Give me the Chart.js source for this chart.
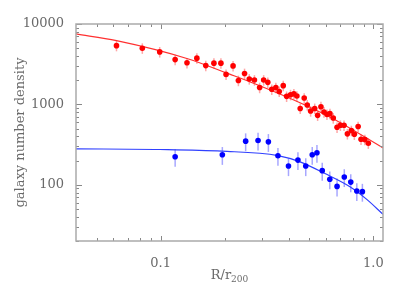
<!DOCTYPE html>
<html lang="en">
<head>
<meta charset="UTF-8">
<title>galaxy number density</title>
<script src="https://cdn.jsdelivr.net/npm/chart.js"></script>
<style>
  body { margin: 0; padding: 0; background: #fff; }
  canvas { display: block; }
</style>
</head>
<body>
<canvas id="chart" width="407" height="291"></canvas>
<script>
  // red sample
  const redX = [0.062, 0.082, 0.099, 0.117, 0.133, 0.148, 0.163, 0.178, 0.192, 0.203,
                0.219, 0.232, 0.248, 0.261, 0.276, 0.292, 0.305, 0.319, 0.333, 0.348,
                0.361, 0.377, 0.391, 0.408, 0.423, 0.437, 0.453, 0.473, 0.489, 0.507,
                0.530, 0.547, 0.567, 0.586, 0.605, 0.625, 0.648, 0.675, 0.700, 0.728,
                0.755, 0.788, 0.814, 0.848, 0.875, 0.912, 0.947];
  const redY = [5380, 5000, 4500, 3610, 3290, 3760, 3040, 3260, 3260, 2360,
                3010, 1980, 2420, 2070, 2010, 1620, 2010, 1880, 1540, 1620,
                1450, 1710, 1260, 1320, 1350, 1270, 891, 1200, 985, 828,
                891, 731, 935, 805, 752, 767, 678, 519, 550, 550,
                430, 472, 425, 530, 368, 365, 329];
  const redErr = 0.15;   // fractional error

  // blue sample
  const blueX = [0.117, 0.195, 0.251, 0.287, 0.321, 0.356, 0.399, 0.442, 0.481, 0.516,
                 0.543, 0.575, 0.624, 0.675, 0.730, 0.783, 0.836, 0.888];
  const blueY = [223, 236, 349, 355, 342, 230, 171, 203, 171, 236,
                 250, 150, 117, 95.5, 125, 108, 83.6, 82.2];
  const blueErr = 0.25;

  // fitted curves
  const redFitX = [0.04, 0.062, 0.134, 0.211, 0.277, 0.452, 0.66, 1.11];
  const redFitY = [7520, 6210, 3700, 2380, 1810, 1050, 646, 288];
  const blueFitX = [0.04, 0.099, 0.194, 0.356, 0.452, 0.592, 0.776, 0.931, 1.11];
  const blueFitY = [280, 275, 262, 231, 193, 138, 94.6, 65.9, 43];

  // axes
  const xMin = 0.04, xMax = 1.11;
  const yMin = 20, yMax = 10000;
  const xMajor = [0.1, 1];
  const xMajorLabels = ['0.1', '1.0'];
  const xMinor = [0.05, 0.06, 0.07, 0.08, 0.09, 0.2, 0.3, 0.4, 0.5, 0.6, 0.7, 0.8, 0.9];
  const yMajor = [100, 1000, 10000];
  const yMinor = [20, 30, 40, 50, 60, 70, 80, 90, 200, 300, 400, 500, 600, 700, 800, 900,
                  2000, 3000, 4000, 5000, 6000, 7000, 8000, 9000];

  const FONT = 'DejaVu Serif';
  const TEXT = '#6a6a6a';

  function pts(xs, ys) {
    return xs.map((x, i) => ({ x: x, y: ys[i] }));
  }

  const framePlugin = {
    id: 'frame',
    beforeDatasetsDraw(chart) {
      const ctx = chart.ctx;
      const xs = chart.scales.x, ys = chart.scales.y;
      const sets = [
        { xv: redX, yv: redY, err: redErr, color: 'rgba(255,60,60,0.45)' },
        { xv: blueX, yv: blueY, err: blueErr, color: 'rgba(60,60,255,0.45)' }
      ];
      ctx.save();
      ctx.lineWidth = 1.5;
      sets.forEach(s => {
        ctx.strokeStyle = s.color;
        s.xv.forEach((x, i) => {
          const px = xs.getPixelForValue(x);
          const y0 = ys.getPixelForValue(s.yv[i] * (1 + s.err));
          const y1 = ys.getPixelForValue(s.yv[i] * (1 - s.err));
          ctx.beginPath();
          ctx.moveTo(px, y0);
          ctx.lineTo(px, y1);
          ctx.stroke();
        });
      });
      ctx.restore();
    },
    afterDraw(chart) {
      const ctx = chart.ctx;
      const a = chart.chartArea;
      const xs = chart.scales.x, ys = chart.scales.y;
      ctx.save();
      // ticks inside the box, on all four sides
      ctx.strokeStyle = '#888';
      ctx.lineWidth = 1;
      const xt = (v, len) => {
        const p = Math.round(xs.getPixelForValue(v)) + 0.5;
        ctx.beginPath();
        ctx.moveTo(p, a.bottom); ctx.lineTo(p, a.bottom - len);
        ctx.moveTo(p, a.top); ctx.lineTo(p, a.top + len);
        ctx.stroke();
      };
      const yt = (v, len) => {
        const p = Math.round(ys.getPixelForValue(v)) + 0.5;
        ctx.beginPath();
        ctx.moveTo(a.left, p); ctx.lineTo(a.left + len, p);
        ctx.moveTo(a.right, p); ctx.lineTo(a.right - len, p);
        ctx.stroke();
      };
      xMinor.forEach(v => xt(v, 3));
      xMajor.forEach(v => xt(v, 5));
      yMinor.forEach(v => yt(v, 3));
      yMajor.forEach(v => yt(v, 6));

      ctx.strokeStyle = '#aaa';
      ctx.lineWidth = 1.5;
      ctx.strokeRect(a.left, a.top, a.right - a.left, a.bottom - a.top);

      // axis titles
      ctx.fillStyle = TEXT;
      ctx.textBaseline = 'alphabetic';
      ctx.font = '13px "' + FONT + '"';
      const main = 'R/r';
      const sub = '200';
      const w1 = ctx.measureText(main).width;
      ctx.font = '9px "' + FONT + '"';
      const w2 = ctx.measureText(sub).width;
      const cx = (a.left + a.right) / 2;
      const x0 = cx - (w1 + w2) / 2;
      ctx.font = '13px "' + FONT + '"';
      ctx.textAlign = 'left';
      ctx.fillText(main, x0, 279);
      ctx.font = '9px "' + FONT + '"';
      ctx.fillText(sub, x0 + w1, 282);

      ctx.font = '13px "' + FONT + '"';
      ctx.translate(24, (a.top + a.bottom) / 2);
      ctx.rotate(-Math.PI / 2);
      ctx.textAlign = 'center';
      ctx.fillText('galaxy number density', 0, 0);
      ctx.restore();
    }
  };

  const ctx = document.getElementById('chart').getContext('2d');
  new Chart(ctx, {
    type: 'scatter',
    data: {
      datasets: [
        {
          label: 'red',
          data: pts(redX, redY),
          backgroundColor: '#ff0000',
          borderColor: '#ff0000',
          pointRadius: 2.8,
          borderWidth: 0,
          order: 1
        },
        {
          label: 'blue',
          data: pts(blueX, blueY),
          backgroundColor: '#0000ff',
          borderColor: '#0000ff',
          pointRadius: 2.8,
          borderWidth: 0,
          order: 1
        },
        {
          label: 'red fit',
          data: pts(redFitX, redFitY),
          showLine: true,
          pointRadius: 0,
          borderColor: '#ff3030',
          borderWidth: 1.2,
          cubicInterpolationMode: 'monotone',
          order: 2
        },
        {
          label: 'blue fit',
          data: pts(blueFitX, blueFitY),
          showLine: true,
          pointRadius: 0,
          borderColor: '#3040ff',
          borderWidth: 1.2,
          cubicInterpolationMode: 'monotone',
          order: 2
        }
      ]
    },
    options: {
      responsive: false,
      devicePixelRatio: 1,
      animation: false,
      layout: { padding: { top: 24, right: 24, left: 0, bottom: 0 } },
      plugins: {
        legend: { display: false },
        tooltip: { enabled: false }
      },
      scales: {
        x: {
          type: 'logarithmic',
          min: xMin,
          max: xMax,
          grid: { display: false },
          border: { display: false },
          afterBuildTicks: s => { s.ticks = xMajor.map(v => ({ value: v })); },
          afterFit: s => { s.height = 50; },
          ticks: {
            padding: 7,
            maxRotation: 0,
            color: TEXT,
            font: { family: FONT, size: 13 },
            callback: v => xMajorLabels[xMajor.indexOf(v)]
          }
        },
        y: {
          type: 'logarithmic',
          min: yMin,
          max: yMax,
          grid: { display: false },
          border: { display: false },
          afterBuildTicks: s => { s.ticks = yMajor.map(v => ({ value: v })); },
          afterFit: s => { s.width = 76; },
          ticks: {
            padding: 4,
            color: TEXT,
            font: { family: FONT, size: 13 },
            callback: v => String(v)
          }
        }
      }
    },
    plugins: [framePlugin]
  });
</script>
</body>
</html>
